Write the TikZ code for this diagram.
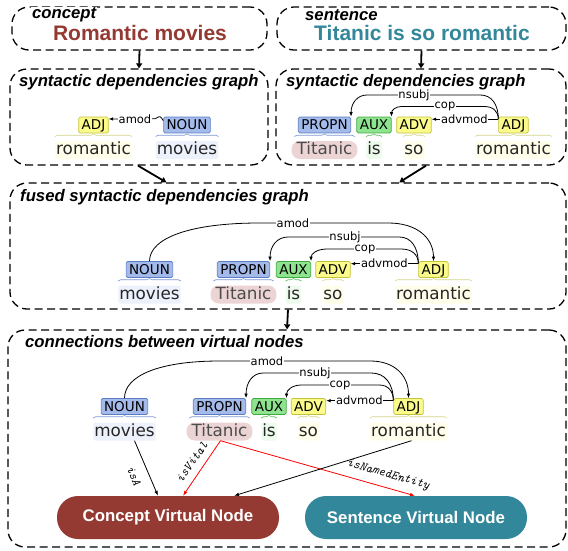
\documentclass[tikz,border=0pt]{standalone}
\usepackage{fontspec}
\setmainfont{Liberation Sans}
\newfontfamily\dv{DejaVu Sans}
\usetikzlibrary{calc,arrows.meta,decorations.pathreplacing}
\definecolor{cred}{HTML}{943A33}
\definecolor{cteal}{HTML}{33879A}
\definecolor{nounF}{HTML}{A3BAEB}
\definecolor{nounD}{HTML}{5B7EC2}
\definecolor{auxF}{HTML}{8EE48E}
\definecolor{auxD}{HTML}{3FA83F}
\definecolor{adjF}{HTML}{FBFB8C}
\definecolor{adjD}{HTML}{C4C23A}
\definecolor{nounW}{HTML}{EDF1FB}
\definecolor{auxW}{HTML}{EDFBED}
\definecolor{adjW}{HTML}{FEFEEA}
\definecolor{titP}{HTML}{ECD4D4}
\definecolor{nounB}{HTML}{7C98D6}
\definecolor{auxB}{HTML}{5DBE5D}
\definecolor{adjB}{HTML}{D4D28A}
\newcommand\tok[9]{%
  \node[tag,#4] (#1t) at (#2,#3) {#5};
  \node[word,#6] (#1w) at (#2,#3+25) {#7};
  \draw[brc,#8] ($(#1w.west |- 0,#3+11.5)+(#9,0)$) -- ($(#1w.east |- 0,#3+11.5)+(-#9,0)$);
}
\newcommand\brk[8]{%
  \coordinate (#8a) at (#1 |- 0,#3);
  \coordinate (#8b) at ($(#8a)+(#4,0)$);
  \coordinate (#8c) at (#2 |- 0,#3);
  \coordinate (#8d) at ($(#8c)+(#5,0)$);
  \draw[arcl] (#1) .. controls ($(#1)!0.62!(#8a)$) and ($(#8b)!0.62!(#8a)$) .. (#8b) -- (#8d)
     .. controls ($(#8d)!0.62!(#8c)$) and ($(#2)!0.62!(#8c)$) .. (#2);
  \node[alab] (#8) at (#7,#3) {#6};
}
\begin{document}
\begin{tikzpicture}[x=1pt,y=-1pt,
  dbox/.style={draw, dash pattern=on 8pt off 4.5pt, line width=1.3pt, rounded corners=17pt, inner sep=0pt},
  ttl/.style={font=\bfseries\itshape\fontsize{16.7}{17}\selectfont, fill=white, inner sep=1pt, anchor=west},
  big/.style={font=\bfseries\fontsize{21}{22}\selectfont, inner sep=1pt},
  tag/.style={draw, rounded corners=1.5pt, line width=0.7pt, font=\dv\fontsize{13.5}{14}\selectfont, text height=9.9pt, text depth=0pt, inner xsep=3pt, inner ysep=3pt},
  nountag/.style={fill=nounF, draw=nounD},
  auxtag/.style={fill=auxF, draw=auxD},
  adjtag/.style={fill=adjF, draw=adjD},
  word/.style={font=\dv\fontsize{16.8}{17}\selectfont, text=black!85, text height=12.5pt, text depth=3.5pt, inner xsep=1pt, inner ysep=1pt, rounded corners=2pt},
  nounw/.style={fill=nounW}, auxw/.style={fill=auxW}, adjw/.style={fill=adjW},
  titw/.style={fill=titP, rounded corners=8pt, inner xsep=5pt, text=black!70},
  brc/.style={decorate, decoration={brace, amplitude=2.5pt}, line width=0.6pt},
  arcl/.style={draw, line width=0.8pt, -{Latex[length=4.5pt,width=3.5pt]}},
  alab/.style={font=\dv\fontsize{11.5}{12}\selectfont, fill=white, inner sep=0.8pt},
  vnode/.style={rounded corners=21pt, minimum width=222pt, minimum height=43pt, text=white, font=\bfseries\fontsize{16.8}{17}\selectfont},
  carr/.style={line width=0.8pt, -{Latex[length=5pt,width=3.5pt]}},
  clab/.style={font=\ttfamily\itshape\fontsize{12.5}{13}\selectfont, inner sep=0.5pt},
  bigarr/.style={line width=1.8pt, -{Triangle[length=5pt,width=6pt]}}]
\useasboundingbox (0,0) rectangle (568,550);
% boxes
\node[dbox, minimum width=255pt, minimum height=43pt] (cbox) at (139.5,28.5) {};
\node[dbox, minimum width=289pt, minimum height=43pt] (sbox) at (421.5,28.5) {};
\node[dbox, minimum width=258pt, minimum height=96pt] (lsyn) at (139,117) {};
\node[dbox, minimum width=290pt, minimum height=96pt] (rsyn) at (421,117) {};
\node[dbox, minimum width=556pt, minimum height=126pt] (fused) at (288,246) {};
\node[dbox, minimum width=558pt, minimum height=217pt] (conn) at (287,438.5) {};
% titles
\node[ttl] (t1) at (31,15) {concept};
\node[big, text=cred] (m1) at (140,33) {Romantic movies};
\node[ttl] (t2) at (304,15) {sentence};
\node[big, text=cteal] (m2) at (422,33) {Titanic is so romantic};
\node[ttl] (t3) at (18,82) {syntactic dependencies graph};
\node[ttl] (t4) at (285,82) {syntactic dependencies graph};
\node[ttl] (t5) at (19,197) {fused syntactic dependencies graph};
\node[ttl] (t6) at (24,342) {connections between virtual nodes};
% big arrows
\draw[bigarr] (cbox.south) -- (lsyn.north);
\draw[bigarr] (sbox.south) -- (rsyn.north);
\draw[bigarr] ($(lsyn.south)+(-1,0)$) -- ($(fused.north west)+(157,0)$);
\draw[bigarr] ($(rsyn.south)+(5,0)$) -- ($(fused.north west)+(390,0)$);
\draw[bigarr] (fused.south) -- (conn.north);
% left syntactic graph
\tok{LA}{93.5}{125}{adjtag}{ADJ}{adjw}{romantic}{adjB}{0}
\tok{LN}{187}{125}{nountag}{NOUN}{nounw}{movies}{nounB}{0}
\draw[arcl] ($(LNt.north west)+(0,4)$) .. controls ($(LNt.north west)+(-3,-1)$) .. ($(LNt.north west)+(-8,2)$) -- (LAt.east |- 0,119);
\node[alab] (LL0) at (135,119) {amod};
% right syntactic graph
\tok{RP}{324.5}{125}{nountag}{PROPN}{titw}{Titanic}{nounB}{3}
\tok{RX}{374}{125}{auxtag}{AUX}{auxw}{is}{auxB}{0}
\tok{RV}{414}{125}{adjtag}{ADV}{adjw}{so}{adjB}{0}
\tok{RA}{513.5}{125}{adjtag}{ADJ}{adjw}{romantic}{adjB}{0}
\coordinate (RS) at ($(RAt.north west)+(0,2.5)$);
\brk{RS}{RPt.north east}{95}{-18}{16}{nsubj}{414}{RL1}
\brk{RS}{RXt.north east}{106.5}{-14}{10}{cop}{445}{RL2}
\draw[arcl] (RS) -- (RVt.east |- RS);
\node[alab] (RL3) at ($(RS)+(-34,0)$) {advmod};
% fused graph
\tok{FN}{149.5}{269.5}{nountag}{NOUN}{nounw}{movies}{nounB}{0}
\tok{FP}{243.5}{269.5}{nountag}{PROPN}{titw}{Titanic}{nounB}{3}
\tok{FX}{293.5}{269.5}{auxtag}{AUX}{auxw}{is}{auxB}{0}
\tok{FV}{333}{269.5}{adjtag}{ADV}{adjw}{so}{adjB}{0}
\tok{FA}{433.5}{269.5}{adjtag}{ADJ}{adjw}{romantic}{adjB}{0}
\coordinate (FS) at ($(FAt.north west)+(0,2.5)$);
\brk{FNt.north}{FAt.north}{223}{110}{-45}{amod}{293}{FL0}
\brk{FS}{FPt.north east}{237}{-19}{18}{nsubj}{345}{FL1}
\brk{FS}{FXt.north east}{249}{-17}{16}{cop}{365}{FL2}
\draw[arcl] (FS) -- (FVt.east |- FS);
\node[alab] (FL3) at ($(FS)+(-34,0)$) {advmod};
% connections graph
\tok{CN}{124.5}{406.5}{nountag}{NOUN}{nounw}{movies}{nounB}{0}
\tok{CP}{219.5}{406.5}{nountag}{PROPN}{titw}{Titanic}{nounB}{3}
\tok{CX}{269}{406.5}{auxtag}{AUX}{auxw}{is}{auxB}{0}
\tok{CV}{308.5}{406.5}{adjtag}{ADV}{adjw}{so}{adjB}{0}
\tok{CA}{408.5}{406.5}{adjtag}{ADJ}{adjw}{romantic}{adjB}{0}
\coordinate (CS) at ($(CAt.north west)+(0,2.5)$);
\brk{CNt.north}{CAt.north}{361}{95}{-38}{amod}{267}{CL0}
\brk{CS}{CPt.north east}{373}{-22}{17}{nsubj}{315}{CL1}
\brk{CS}{CXt.north east}{385}{-14}{15}{cop}{340}{CL2}
\draw[arcl] (CS) -- (CVt.east |- CS);
\node[alab] (CL3) at ($(CS)+(-34,0)$) {advmod};
% virtual nodes
\node[vnode, fill=cred] (cvn) at (168,517.5) {Concept Virtual Node};
\node[vnode, fill=cteal] (svn) at (416,517.5) {Sentence Virtual Node};
\draw[carr] ($(CNw.south)+(10,0)$) -- ($(cvn.north)+(-10,0)$);
\draw[carr, red] ($(CPw.south)+(1,0)$) -- ($(cvn.north)+(15,0)$);
\draw[carr, red] ($(CPw.south)+(1,0)$) -- ($(svn.north)+(-1,0)$);
\draw[carr] ($(CAw.south)+(3,0)$) -- ($(cvn.north)+(66,0)$);
\node[clab, rotate=-67] (lisA) at (134,476) {isA};
\node[clab, rotate=55] (lisV) at (192,462) {isVital};
\node[clab, rotate=-15.8] (lisN) at (388,475) {isNamedEntity};
\end{tikzpicture}
\end{document}
